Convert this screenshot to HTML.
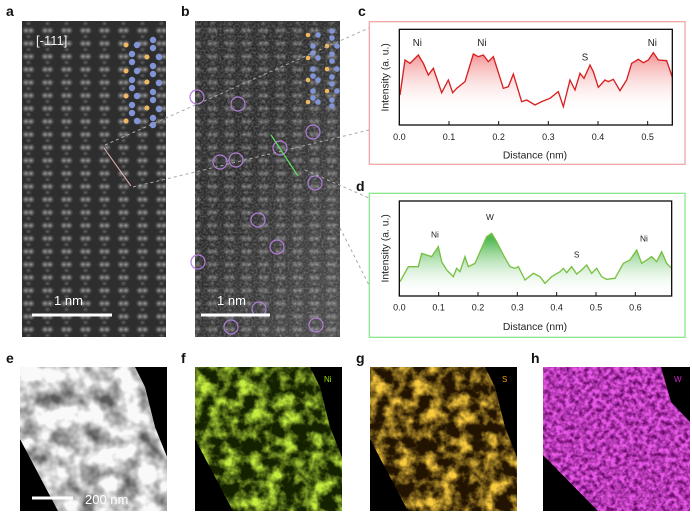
<!DOCTYPE html>
<html><head><meta charset="utf-8"><style>
html,body{margin:0;padding:0;background:#fff;}
svg{display:block;font-family:"Liberation Sans",sans-serif;}
</style></head><body>
<svg width="692" height="517" viewBox="0 0 692 517" xmlns="http://www.w3.org/2000/svg">
<defs>
  <radialGradient id="blob"><stop offset="0" stop-color="#bdbdbd" stop-opacity="0.8"/><stop offset="0.6" stop-color="#888" stop-opacity="0.35"/><stop offset="1" stop-color="#666" stop-opacity="0"/></radialGradient>
  <pattern id="latA" width="19" height="13" patternUnits="userSpaceOnUse">
    <rect width="19" height="13" fill="#2e2e2e"/>
    <ellipse cx="7" cy="4.5" rx="4.5" ry="4.2" fill="url(#blob)"/>
    <ellipse cx="12" cy="4.5" rx="4.5" ry="4.2" fill="url(#blob)"/>
    <ellipse cx="9.5" cy="10.5" rx="3.5" ry="3" fill="url(#blob)" opacity="0.5"/>
  </pattern>
  <pattern id="latB" width="17" height="13" patternUnits="userSpaceOnUse">
    <rect width="17" height="13" fill="#2c2c2c"/>
    <ellipse cx="6" cy="4.5" rx="4.3" ry="4" fill="url(#blob)" opacity="0.75"/>
    <ellipse cx="11" cy="4.5" rx="4.3" ry="4" fill="url(#blob)" opacity="0.75"/>
    <ellipse cx="8.5" cy="10.5" rx="3.3" ry="3" fill="url(#blob)" opacity="0.45"/>
  </pattern>
  <filter id="grain" x="0" y="0" width="1" height="1"><feTurbulence type="fractalNoise" baseFrequency="0.5" numOctaves="2" seed="2"/><feColorMatrix type="matrix" values="0 0 0 0 0.7  0 0 0 0 0.7  0 0 0 0 0.7  0.6 0 0 0 -0.22"/></filter>
  <linearGradient id="bglow" x1="0" y1="0" x2="1" y2="1"><stop offset="0.4" stop-color="#fff" stop-opacity="0"/><stop offset="1" stop-color="#fff" stop-opacity="0.15"/></linearGradient>
  <linearGradient id="redf" x1="0" y1="0" x2="0" y2="1"><stop offset="0" stop-color="#ef6a6a" stop-opacity="0.75"/><stop offset="0.85" stop-color="#fff" stop-opacity="0"/></linearGradient>
  <linearGradient id="grnf" x1="0" y1="0" x2="0" y2="1"><stop offset="0.1" stop-color="#3fb23f" stop-opacity="0.9"/><stop offset="1" stop-color="#fff" stop-opacity="0"/></linearGradient>
  <filter id="noiseG" x="0" y="0" width="1" height="1"><feTurbulence type="fractalNoise" baseFrequency="0.07" numOctaves="4" seed="3"/><feColorMatrix type="matrix" values="0 0 0 0 0.55  0 0 0 0 0.85  0 0 0 0 0.05  2.6 0 0 0 -1.0"/></filter>
  <filter id="noiseO" x="0" y="0" width="1" height="1"><feTurbulence type="fractalNoise" baseFrequency="0.07" numOctaves="4" seed="3"/><feColorMatrix type="matrix" values="0 0 0 0 0.95  0 0 0 0 0.6  0 0 0 0 0.05  2.6 0 0 0 -1.0"/></filter>
  <filter id="noiseM" x="0" y="0" width="1" height="1"><feTurbulence type="fractalNoise" baseFrequency="0.22" numOctaves="2" seed="7"/><feColorMatrix type="matrix" values="0 0 0 0 0.8  0 0 0 0 0.1  0 0 0 0 0.8  2.2 0 0 0 -0.5"/></filter>
  <filter id="noiseW" x="0" y="0" width="1" height="1"><feTurbulence type="fractalNoise" baseFrequency="0.05" numOctaves="3" seed="5"/><feColorMatrix type="matrix" values="0 0 0 0 0.95  0 0 0 0 0.95  0 0 0 0 0.95  2.2 0 0 0 -0.4"/></filter>
  <clipPath id="band"><polygon points="0,0 115,0 125,20 135,60 147,90 147,144 38,144 0,72"/></clipPath>
  <clipPath id="bandW"><polygon points="0,0 118,0 128,35 147,55 147,144 55,144 0,88"/></clipPath>
</defs>

<g font-weight="bold" font-size="14" fill="#111">
  <text x="6" y="16">a</text><text x="181" y="16">b</text><text x="358" y="16">c</text><text x="356" y="191">d</text>
  <text x="6" y="363">e</text><text x="181" y="363">f</text><text x="356" y="363">g</text><text x="531" y="363">h</text>
</g>

<rect x="22" y="21" width="144" height="316" fill="url(#latA)"/>
<text x="36" y="45" fill="#eee" font-size="13">[-111]</text>
<g fill="#f0b860"><circle cx="126" cy="45" r="2.5"/><circle cx="147" cy="57" r="2.5"/><circle cx="126" cy="71" r="2.5"/><circle cx="147" cy="82" r="2.5"/><circle cx="126" cy="96" r="2.5"/><circle cx="147" cy="108" r="2.5"/><circle cx="126" cy="121" r="2.5"/></g>
<g fill="#8094d6"><circle cx="137" cy="45" r="3.2"/><circle cx="153" cy="40" r="3.2"/><circle cx="153" cy="48" r="3.2"/><circle cx="132" cy="54" r="3.2"/><circle cx="132" cy="62" r="3.2"/><circle cx="159" cy="57" r="3.2"/><circle cx="137" cy="71" r="3.2"/><circle cx="153" cy="66" r="3.2"/><circle cx="153" cy="74" r="3.2"/><circle cx="132" cy="80" r="3.2"/><circle cx="132" cy="88" r="3.2"/><circle cx="159" cy="83" r="3.2"/><circle cx="137" cy="96" r="3.2"/><circle cx="153" cy="92" r="3.2"/><circle cx="153" cy="100" r="3.2"/><circle cx="132" cy="105" r="3.2"/><circle cx="132" cy="113" r="3.2"/><circle cx="159" cy="109" r="3.2"/><circle cx="137" cy="121" r="3.2"/><circle cx="153" cy="118" r="3.2"/><circle cx="153" cy="125" r="3.2"/></g>
<line x1="104" y1="148" x2="131" y2="186" stroke="#e8b8b8" stroke-width="1"/>
<line x1="32" y1="315" x2="112" y2="315" stroke="#fff" stroke-width="3"/>
<text x="54" y="305" fill="#fff" font-size="13">1 nm</text>

<rect x="195" y="21" width="145" height="316" fill="url(#latB)"/>
<rect x="195" y="21" width="145" height="316" filter="url(#grain)"/>
<rect x="195" y="21" width="145" height="316" fill="url(#bglow)"/>
<g fill="#f0b860"><circle cx="308" cy="35" r="2.3"/><circle cx="327" cy="46" r="2.3"/><circle cx="308" cy="58" r="2.3"/><circle cx="327" cy="69" r="2.3"/><circle cx="308" cy="80" r="2.3"/><circle cx="327" cy="91" r="2.3"/><circle cx="308" cy="102" r="2.3"/></g>
<g fill="#8094d6"><circle cx="318" cy="35" r="2.8"/><circle cx="332" cy="31" r="2.8"/><circle cx="332" cy="38" r="2.8"/><circle cx="313" cy="46" r="2.8"/><circle cx="313" cy="53" r="2.8"/><circle cx="337" cy="46" r="2.8"/><circle cx="318" cy="58" r="2.8"/><circle cx="332" cy="54" r="2.8"/><circle cx="332" cy="61" r="2.8"/><circle cx="313" cy="69" r="2.8"/><circle cx="313" cy="76" r="2.8"/><circle cx="337" cy="69" r="2.8"/><circle cx="318" cy="80" r="2.8"/><circle cx="332" cy="77" r="2.8"/><circle cx="332" cy="84" r="2.8"/><circle cx="313" cy="91" r="2.8"/><circle cx="313" cy="98" r="2.8"/><circle cx="337" cy="91" r="2.8"/><circle cx="318" cy="102" r="2.8"/><circle cx="332" cy="100" r="2.8"/><circle cx="332" cy="106" r="2.8"/></g>
<g fill="none" stroke="#b27ed8" stroke-width="1.2">
  <circle cx="197" cy="97" r="7"/><circle cx="238" cy="104" r="7"/><circle cx="313" cy="132" r="7"/><circle cx="220" cy="162" r="7"/><circle cx="236" cy="160" r="7"/><circle cx="280" cy="148" r="7"/><circle cx="315" cy="183" r="7"/><circle cx="258" cy="220" r="7"/><circle cx="277" cy="247" r="7"/><circle cx="198" cy="262" r="7"/><circle cx="259" cy="309" r="7"/><circle cx="231" cy="327" r="7"/><circle cx="316" cy="325" r="7"/>
</g>
<line x1="271" y1="135" x2="298" y2="176" stroke="#5fe05f" stroke-width="1.2"/>
<line x1="201" y1="315" x2="270" y2="315" stroke="#fff" stroke-width="3"/>
<text x="217" y="305" fill="#fff" font-size="13">1 nm</text>

<g stroke="#aaa" stroke-width="1" stroke-dasharray="3,3" fill="none">
  <line x1="105" y1="145" x2="369" y2="28"/>
  <line x1="133" y1="187" x2="369" y2="130"/>
  <line x1="305" y1="170" x2="369" y2="198"/>
  <line x1="340" y1="228" x2="369" y2="285"/>
</g>

<g transform="translate(360,0) scale(0.33333)">
  <rect x="28" y="65" width="947" height="428" fill="#fff" stroke="#f2a8a8" stroke-width="4"/>
  <path d="M120,285 L135,180 150,190 175,165 190,190 205,225 220,205 245,278 265,240 278,278 290,265 315,245 340,162 355,170 370,165 385,185 400,170 430,265 445,260 460,222 485,305 500,300 525,315 545,305 570,295 595,275 610,320 630,240 645,270 660,220 672,235 690,195 700,215 715,262 735,240 745,245 760,238 780,272 800,240 815,190 835,178 850,188 865,180 880,158 895,180 920,182 937,232 L937,375 L120,375Z" fill="url(#redf)"/>
  <polyline points="120,285 135,180 150,190 175,165 190,190 205,225 220,205 245,278 265,240 278,278 290,265 315,245 340,162 355,170 370,165 385,185 400,170 430,265 445,260 460,222 485,305 500,300 525,315 545,305 570,295 595,275 610,320 630,240 645,270 660,220 672,235 690,195 700,215 715,262 735,240 745,245 760,238 780,272 800,240 815,190 835,178 850,188 865,180 880,158 895,180 920,182 937,232" fill="none" stroke="#d62020" stroke-width="4"/>
  <rect x="118" y="88" width="819" height="287" fill="none" stroke="#111" stroke-width="4"/>
  <g stroke="#111" stroke-width="3"><line x1="118" y1="375" x2="118" y2="363"/><line x1="267" y1="375" x2="267" y2="363"/><line x1="416" y1="375" x2="416" y2="363"/><line x1="565" y1="375" x2="565" y2="363"/><line x1="714" y1="375" x2="714" y2="363"/><line x1="863" y1="375" x2="863" y2="363"/></g>
  <g font-size="27" fill="#222" text-anchor="middle">
    <text x="118" y="420">0.0</text><text x="267" y="420">0.1</text><text x="416" y="420">0.2</text><text x="565" y="420">0.3</text><text x="714" y="420">0.4</text><text x="863" y="420">0.5</text>
    <text x="525" y="475" font-size="31">Distance (nm)</text>
    <text x="172" y="138" font-size="29">Ni</text><text x="366" y="138" font-size="29">Ni</text><text x="675" y="182" font-size="29">S</text><text x="877" y="138" font-size="29">Ni</text>
    <text transform="translate(85,232) rotate(-90)" font-size="31">Intensity (a. u.)</text>
  </g>

  <rect x="28" y="580" width="947" height="432" fill="#fff" stroke="#8ee88e" stroke-width="4"/>
  <path d="M120,845 L145,800 175,800 185,760 215,770 235,740 245,785 260,810 280,830 290,805 300,815 315,770 325,800 345,790 380,710 395,700 410,725 430,765 450,800 465,805 475,800 495,840 520,820 540,830 555,850 575,830 600,815 610,805 620,818 635,800 650,822 665,810 680,795 695,820 710,805 725,830 740,838 765,835 790,790 810,780 830,750 845,790 860,780 875,770 890,785 905,755 920,790 935,805 L935,888 L120,888Z" fill="url(#grnf)"/>
  <polyline points="120,845 145,800 175,800 185,760 215,770 235,740 245,785 260,810 280,830 290,805 300,815 315,770 325,800 345,790 380,710 395,700 410,725 430,765 450,800 465,805 475,800 495,840 520,820 540,830 555,850 575,830 600,815 610,805 620,818 635,800 650,822 665,810 680,795 695,820 710,805 725,830 740,838 765,835 790,790 810,780 830,750 845,790 860,780 875,770 890,785 905,755 920,790 935,805" fill="none" stroke="#78c040" stroke-width="4"/>
  <rect x="118" y="603" width="817" height="285" fill="none" stroke="#111" stroke-width="4"/>
  <g stroke="#111" stroke-width="3"><line x1="118" y1="888" x2="118" y2="876"/><line x1="236" y1="888" x2="236" y2="876"/><line x1="354" y1="888" x2="354" y2="876"/><line x1="472" y1="888" x2="472" y2="876"/><line x1="590" y1="888" x2="590" y2="876"/><line x1="708" y1="888" x2="708" y2="876"/><line x1="826" y1="888" x2="826" y2="876"/></g>
  <g font-size="27" fill="#222" text-anchor="middle">
    <text x="118" y="932">0.0</text><text x="236" y="932">0.1</text><text x="354" y="932">0.2</text><text x="472" y="932">0.3</text><text x="590" y="932">0.4</text><text x="708" y="932">0.5</text><text x="826" y="932">0.6</text>
    <text x="525" y="990" font-size="31">Distance (nm)</text>
    <text x="225" y="712" font-size="25">Ni</text><text x="390" y="660" font-size="25">W</text><text x="650" y="772" font-size="25">S</text><text x="852" y="724" font-size="25">Ni</text>
    <text transform="translate(85,745) rotate(-90)" font-size="31">Intensity (a. u.)</text>
  </g>
</g>

<g transform="translate(20,367)">
  <rect width="147" height="144" fill="#000"/>
  <g clip-path="url(#band)"><rect width="147" height="144" fill="#5a5a5a"/><rect width="147" height="144" filter="url(#noiseW)"/></g>
  <line x1="12" y1="131" x2="53" y2="131" stroke="#fff" stroke-width="3"/>
  <text x="65" y="137" fill="#fff" font-size="13">200 nm</text>
</g>
<g transform="translate(195,367)">
  <rect width="147" height="144" fill="#000"/>
  <g clip-path="url(#band)"><rect width="147" height="144" fill="#142200"/><rect width="147" height="144" filter="url(#noiseG)"/></g>
  <text x="129" y="15" fill="#9be000" font-size="8">Ni</text>
</g>
<g transform="translate(370,367)">
  <rect width="147" height="144" fill="#000"/>
  <g clip-path="url(#band)"><rect width="147" height="144" fill="#221400"/><rect width="147" height="144" filter="url(#noiseO)"/></g>
  <text x="132" y="15" fill="#f0a010" font-size="8">S</text>
</g>
<g transform="translate(543,367)">
  <rect width="147" height="144" fill="#000"/>
  <g clip-path="url(#bandW)"><rect width="147" height="144" fill="#6a0a6a"/><rect width="147" height="144" filter="url(#noiseM)"/></g>
  <text x="131" y="15" fill="#d020d0" font-size="8">W</text>
</g>
</svg>
</body></html>
